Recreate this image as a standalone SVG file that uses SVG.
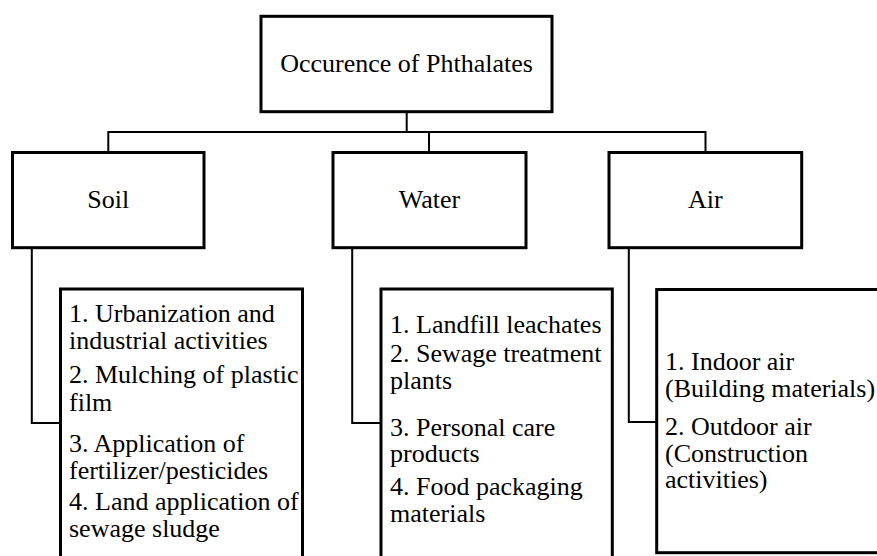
<svg xmlns="http://www.w3.org/2000/svg" width="877" height="556" viewBox="0 0 877 556">
  <style>
    .box { fill: #ffffff; stroke: #000000; stroke-width: 3; }
    .link { fill: none; stroke: #000000; stroke-width: 2; }
    .mid { text-anchor: middle; }
  </style>
  <rect x="0" y="0" width="877" height="556" fill="#ffffff"/>

  <!-- connectors -->
  <g id="connectors">
    <polyline class="link" points="406.7,112 406.7,132"/>
    <polyline class="link" points="108.3,152.5 108.3,132 705.5,132 705.5,152.5"/>
    <polyline class="link" points="429,132 429,152.5"/>
    <polyline class="link" points="31.8,247.7 31.8,423 60.5,423"/>
    <polyline class="link" points="352.2,247.7 352.2,423 381,423"/>
    <polyline class="link" points="628.8,247.7 628.8,422 656.7,422"/>
  </g>

  <g font-family="Liberation Serif, Tinos, Times New Roman, serif" font-size="26" fill="#000000">
    <g id="root">
      <rect class="box" x="261" y="16.3" width="291" height="95.4"/>
      <text class="mid" x="406.5" y="72">Occurence of Phthalates</text>
    </g>

    <g id="soil">
      <rect class="box" x="12.5" y="152.5" width="191.5" height="95.2"/>
      <text class="mid" x="108.3" y="208">Soil</text>
    </g>

    <g id="water">
      <rect class="box" x="333" y="152.5" width="193" height="95.2"/>
      <text class="mid" x="429.5" y="208">Water</text>
    </g>

    <g id="air">
      <rect class="box" x="609" y="152.5" width="192.7" height="95.2"/>
      <text class="mid" x="705.3" y="208">Air</text>
    </g>

    <g id="soil-sources">
      <rect class="box" x="60.5" y="289" width="242" height="300"/>
      <text x="69" y="321.7">1. Urbanization and</text>
      <text x="69" y="349">industrial activities</text>
      <text x="69" y="383">2. Mulching of plastic</text>
      <text x="69" y="410.5">film</text>
      <text x="69" y="452">3. Application of</text>
      <text x="69" y="479">fertilizer/pesticides</text>
      <text x="69" y="510">4. Land application of</text>
      <text x="69" y="537">sewage sludge</text>
    </g>

    <g id="water-sources">
      <rect class="box" x="381" y="289" width="231.3" height="300"/>
      <text x="390" y="333">1. Landfill leachates</text>
      <text x="390" y="361.5">2. Sewage treatment</text>
      <text x="390" y="389">plants</text>
      <text x="390" y="436">3. Personal care</text>
      <text x="390" y="462">products</text>
      <text x="390" y="495">4. Food packaging</text>
      <text x="390" y="522">materials</text>
    </g>

    <g id="air-sources">
      <rect class="box" x="656.7" y="289.5" width="240" height="263.2"/>
      <text x="665" y="370">1. Indoor air</text>
      <text x="665" y="397">(Building materials)</text>
      <text x="665" y="435">2. Outdoor air</text>
      <text x="665" y="462">(Construction</text>
      <text x="665" y="488">activities)</text>
    </g>
  </g>
</svg>
